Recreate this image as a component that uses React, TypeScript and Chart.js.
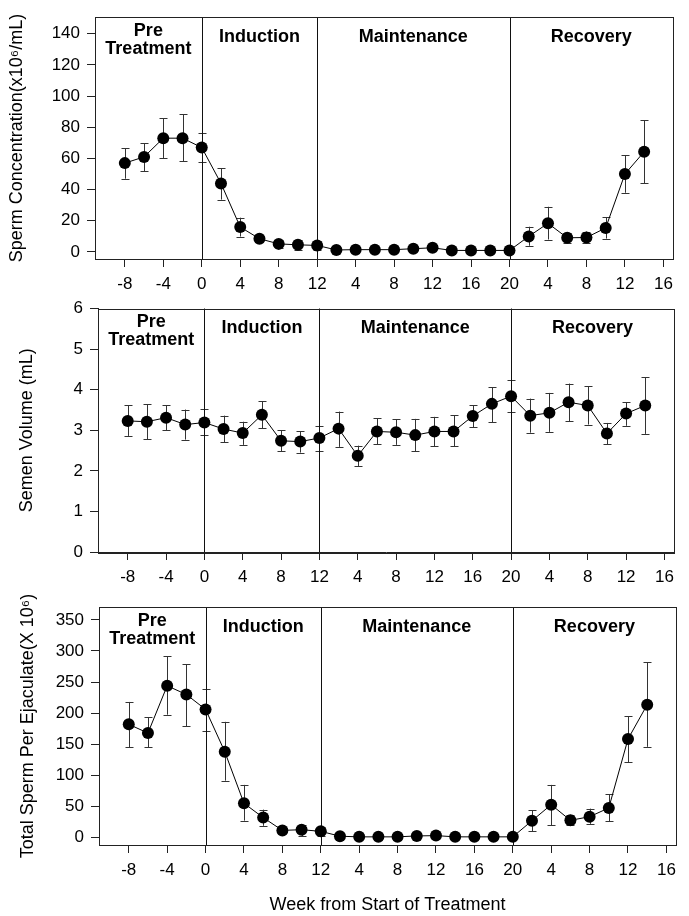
import React, { useEffect, useRef } from "react";
import { Chart, registerables } from "chart.js";

Chart.register(...registerables);

// ---------- DATA ----------
// continuous week position (pre/induction weeks as-is, maintenance = 12 + week, recovery = 32 + week)
const weeks = [-8, -6, -4, -2, 0, 2, 4, 6, 8, 10, 12, 14, 16, 18, 20, 22, 24, 26, 28, 30, 32, 34, 36, 38, 40, 42, 44, 46];
const xTickValues = [-8, -4, 0, 4, 8, 12, 16, 20, 24, 28, 32, 36, 40, 44, 48];
const xTickLabels = ["-8", "-4", "0", "4", "8", "12", "4", "8", "12", "16", "20", "4", "8", "12", "16"];
const phaseBoundaries = [0, 12, 32];
const phaseNames = [["Pre", "Treatment"], ["Induction"], ["Maintenance"], ["Recovery"]];

const concMean = [57, 61, 73, 73, 67, 44, 16, 8.5, 5.2, 4.6, 4.2, 1.3, 1.5, 1.5, 1.5, 2.1, 2.7, 1, 1, 1, 1, 10, 18.4, 9.1, 9.3, 15.4, 50, 64.3];
const concHigh = [66.4, 69.6, 85.7, 88.2, 76.5, 53.7, 22, 10.8, 7.5, 8, 7, 1.3, 1.5, 1.5, 1.5, 2.1, 2.7, 1, 1, 1, 1, 16.2, 29, 12.4, 13.1, 22.4, 62.2, 84.6];
const concLow = [47, 51.8, 60.3, 58.1, 57.5, 33.6, 9.9, 6.1, 2.6, 1, 1, 1.3, 1.5, 1.5, 1.5, 2.1, 2.7, 1, 1, 1, 1, 4, 8, 5.7, 5.7, 8.6, 38, 44];
const concTicks = [0, 20, 40, 60, 80, 100, 120, 140];

const volMean = [3.23, 3.21, 3.31, 3.14, 3.19, 3.03, 2.93, 3.38, 2.74, 2.72, 2.81, 3.04, 2.37, 2.97, 2.95, 2.88, 2.97, 2.97, 3.35, 3.65, 3.84, 3.36, 3.43, 3.69, 3.61, 2.92, 3.41, 3.61];
const volHigh = [3.62, 3.64, 3.62, 3.51, 3.52, 3.36, 3.21, 3.72, 3.0, 2.97, 3.1, 3.46, 2.62, 3.29, 3.27, 3.28, 3.33, 3.37, 3.62, 4.06, 4.25, 3.78, 3.92, 4.15, 4.08, 3.18, 3.69, 4.3];
const volLow = [2.86, 2.78, 3.0, 2.77, 2.88, 2.7, 2.64, 3.05, 2.48, 2.45, 2.5, 2.59, 2.12, 2.66, 2.64, 2.48, 2.61, 2.61, 3.07, 3.2, 3.44, 2.94, 2.96, 3.22, 3.14, 2.66, 3.11, 2.91];
const volTicks = [0, 1, 2, 3, 4, 5, 6];

const totalMean = [182, 168, 244, 230, 206, 138, 55, 32, 11.4, 12.5, 9.9, 2, 1, 1, 1, 2.5, 3, 1, 1, 1, 1, 27, 52.7, 27.6, 33.4, 47.5, 158.3, 213.6];
const totalHigh = [218, 193, 291.5, 279, 239, 186, 84.6, 44.8, 15, 20.8, 16.6, 2, 1, 1, 1, 2.5, 3, 1, 1, 1, 1, 43.8, 84.6, 36.5, 46.4, 69.4, 195.3, 281.5];
const totalLow = [145, 145, 197.5, 178.7, 171, 91.4, 27.1, 18.8, 8, 2, 3, 2, 1, 1, 1, 2.5, 3, 1, 1, 1, 1, 10.4, 19.3, 19.3, 21.9, 26, 120.7, 145.8];
const totalTicks = [0, 50, 100, 150, 200, 250, 300, 350];

const concTitle = "Sperm Concentration(x10\u2076/mL)";
const volTitle = "Semen Volume (mL)";
const totalTitle = "Total Sperm Per Ejaculate(X 10\u2076)";
const xTitle = "Week from Start of Treatment";

// ---------- STYLE / LAYOUT ----------
const FONT = "'Liberation Sans', Arial, Helvetica, sans-serif";
const W = 689;
const X_MIN = -11.1;
const X_MAX = 49;

type PanelSpec = {
  top: number;
  height: number;
  padTop: number;
  padRight: number;
  yWidth: number;
  xHeight: number;
  yMin: number;
  yMax: number;
  yTitlePad: number;
  xTitle: boolean;
};

const panelLayouts: PanelSpec[] = [
  { top: 0, height: 290, padTop: 15, padRight: 16, yWidth: 95, xHeight: 31, yMin: -4.5, yMax: 150.6, yTitlePad: 6, xTitle: false },
  { top: 290, height: 300, padTop: 18.5, padRight: 15, yWidth: 98, xHeight: 38, yMin: 0, yMax: 6, yTitlePad: 16, xTitle: false },
  { top: 590, height: 326, padTop: 11, padRight: 13, yWidth: 99, xHeight: 71, yMin: -12.1, yMax: 370.4, yTitlePad: 17, xTitle: true },
];

const errorBarPlugin = (high: number[], low: number[]) => ({
  id: "errorBars",
  beforeDatasetsDraw(chart: any) {
    const { ctx, scales } = chart;
    const xs = scales.x;
    const ys = scales.y;
    ctx.save();
    ctx.strokeStyle = "#333";
    ctx.lineWidth = 1;
    weeks.forEach((w, i) => {
      const px = Math.round(xs.getPixelForValue(w)) + 0.5;
      const yh = ys.getPixelForValue(high[i]);
      const yl = ys.getPixelForValue(low[i]);
      if (Math.abs(yl - yh) < 2) return;
      ctx.beginPath();
      ctx.moveTo(px, yh);
      ctx.lineTo(px, yl);
      ctx.moveTo(px - 4, Math.round(yh) + 0.5);
      ctx.lineTo(px + 4, Math.round(yh) + 0.5);
      ctx.moveTo(px - 4, Math.round(yl) + 0.5);
      ctx.lineTo(px + 4, Math.round(yl) + 0.5);
      ctx.stroke();
    });
    ctx.restore();
  },
});

const phasePlugin = {
  id: "phases",
  beforeDatasetsDraw(chart: any) {
    const { ctx, chartArea, scales } = chart;
    const xs = scales.x;
    ctx.save();
    ctx.strokeStyle = "#111";
    ctx.lineWidth = 1;
    phaseBoundaries.forEach((b) => {
      const px = Math.round(xs.getPixelForValue(b)) + 0.5;
      ctx.beginPath();
      ctx.moveTo(px, chartArea.top);
      ctx.lineTo(px, chartArea.bottom);
      ctx.stroke();
    });
    ctx.restore();
  },
  afterDraw(chart: any) {
    const { ctx, chartArea, scales } = chart;
    const xs = scales.x;
    const edges = [chartArea.left, ...phaseBoundaries.map((b) => xs.getPixelForValue(b)), chartArea.right];
    ctx.save();
    // box
    ctx.strokeStyle = "#222";
    ctx.lineWidth = 1;
    ctx.strokeRect(
      Math.round(chartArea.left) + 0.5,
      Math.round(chartArea.top) + 0.5,
      Math.round(chartArea.right - chartArea.left),
      Math.round(chartArea.bottom - chartArea.top)
    );
    // labels
    ctx.fillStyle = "#000";
    ctx.font = `bold 18px ${FONT}`;
    ctx.textAlign = "center";
    ctx.textBaseline = "middle";
    phaseNames.forEach((lines, i) => {
      const cx = (edges[i] + edges[i + 1]) / 2;
      if (lines.length === 2) {
        ctx.fillText(lines[0], cx, chartArea.top + 14);
        ctx.fillText(lines[1], cx, chartArea.top + 32);
      } else {
        ctx.fillText(lines[0], cx, chartArea.top + 20);
      }
    });
    ctx.restore();
  },
};

function Panel(props: {
  spec: PanelSpec;
  mean: number[];
  high: number[];
  low: number[];
  yTicks: number[];
  yTitle: string;
}) {
  const ref = useRef<HTMLCanvasElement>(null);
  const { spec } = props;
  useEffect(() => {
    if (!ref.current) return;
    const chart = new Chart(ref.current, {
      type: "line",
      data: {
        datasets: [
          {
            data: weeks.map((w, i) => ({ x: w, y: props.mean[i] })),
            borderColor: "#000",
            borderWidth: 1,
            pointRadius: 6,
            pointBackgroundColor: "#000",
            pointBorderColor: "#000",
            pointBorderWidth: 0,
            tension: 0,
            fill: false,
          },
        ],
      },
      options: {
        animation: false,
        responsive: false,
        maintainAspectRatio: false,
        layout: { padding: { top: spec.padTop, right: spec.padRight, bottom: 0, left: 0 } },
        plugins: { legend: { display: false }, tooltip: { enabled: false } },
        scales: {
          x: {
            type: "linear",
            min: X_MIN,
            max: X_MAX,
            afterBuildTicks: (s: any) => {
              s.ticks = xTickValues.map((v) => ({ value: v }));
            },
            afterFit: (s: any) => {
              s.height = spec.xHeight;
            },
            ticks: {
              autoSkip: false,
              maxRotation: 0,
              padding: 7,
              color: "#000",
              font: { family: FONT, size: 17 },
              callback: (v: any) => {
                const idx = xTickValues.indexOf(Number(v));
                return idx >= 0 ? xTickLabels[idx] : "";
              },
            },
            grid: { drawOnChartArea: false, drawTicks: true, tickLength: 8, color: "#222" },
            border: { color: "#222" },
            title: {
              display: spec.xTitle,
              text: xTitle,
              color: "#000",
              font: { family: FONT, size: 18 },
              padding: { top: 0, bottom: 0 },
            },
          },
          y: {
            type: "linear",
            min: spec.yMin,
            max: spec.yMax,
            afterBuildTicks: (s: any) => {
              s.ticks = props.yTicks.map((v) => ({ value: v }));
            },
            afterFit: (s: any) => {
              s.width = spec.yWidth;
            },
            ticks: {
              padding: 7,
              color: "#000",
              font: { family: FONT, size: 17 },
              callback: (v: any) => String(v),
            },
            grid: { drawOnChartArea: false, drawTicks: true, tickLength: 8, color: "#222" },
            border: { color: "#222" },
            title: {
              display: true,
              text: props.yTitle,
              color: "#000",
              font: { family: FONT, size: 18 },
              padding: { top: spec.yTitlePad, bottom: 0 },
            },
          },
        },
      },
      plugins: [errorBarPlugin(props.high, props.low), phasePlugin],
    } as any);
    return () => chart.destroy();
  }, []);
  return (
    <canvas
      ref={ref}
      width={W}
      height={spec.height}
      style={{ position: "absolute", left: 0, top: spec.top, width: W, height: spec.height }}
    />
  );
}

export default function App() {
  return (
    <div style={{ position: "absolute", left: 0, top: 0, width: W, height: 916, background: "#fff" }}>
      <Panel spec={panelLayouts[0]} mean={concMean} high={concHigh} low={concLow} yTicks={concTicks} yTitle={concTitle} />
      <Panel spec={panelLayouts[1]} mean={volMean} high={volHigh} low={volLow} yTicks={volTicks} yTitle={volTitle} />
      <Panel spec={panelLayouts[2]} mean={totalMean} high={totalHigh} low={totalLow} yTicks={totalTicks} yTitle={totalTitle} />
    </div>
  );
}
